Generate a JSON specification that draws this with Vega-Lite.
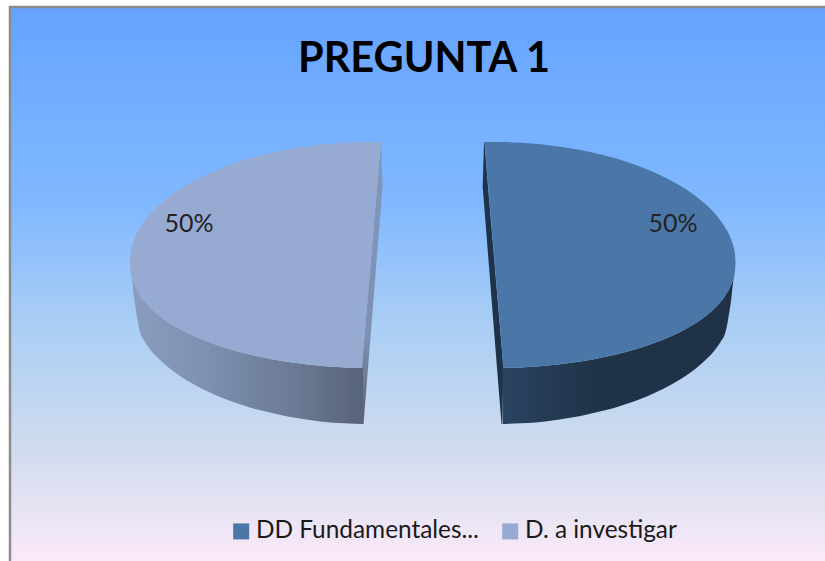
{
"$schema":"https://vega.github.io/schema/vega-lite/v6.json",
"width":825,"height":561,"autosize":{"type":"none"},"padding":0,"background":"white",
"title":{"text":"PREGUNTA 1","font":"Lato","fontWeight":"bold","fontSize":41.5,"color":"#000000","anchor":"middle","dx":11.5,"dy":84},
"config":{"view":{"stroke":null}},
"datasets":{
"frame":[{"x":10,"x2":835,"y":7,"y2":570}],
"topL":[{"x":130,"y":262,"y2":262},{"x":130.5,"y":254.3,"y2":270.5},{"x":131,"y":251.1,"y2":273.7},{"x":132,"y":246.6,"y2":278},{"x":134,"y":240.3,"y2":284},{"x":137,"y":233.3,"y2":290.4},{"x":140,"y":227.9,"y2":295.3},{"x":145,"y":220.4,"y2":302},{"x":152,"y":212,"y2":309.4},{"x":160,"y":204.1,"y2":316.2},{"x":170,"y":195.9,"y2":323.2},{"x":180,"y":189,"y2":329.2},{"x":195,"y":180.2,"y2":336.5},{"x":210,"y":172.9,"y2":342.6},{"x":225,"y":166.7,"y2":347.8},{"x":240,"y":161.4,"y2":352.1},{"x":255,"y":157,"y2":355.8},{"x":270,"y":153.2,"y2":358.9},{"x":285,"y":150,"y2":361.5},{"x":300,"y":147.4,"y2":363.6},{"x":315,"y":145.4,"y2":365.3},{"x":330,"y":143.8,"y2":366.5},{"x":345,"y":142.7,"y2":367.4},{"x":362,"y":142.1,"y2":367.9},{"x":364,"y":142.1,"y2":344},{"x":366,"y":142.1,"y2":320},{"x":370,"y":142,"y2":273},{"x":375,"y":142,"y2":213},{"x":379,"y":142,"y2":166},{"x":381,"y":142,"y2":142}],
"topR":[{"x":484.5,"y":142,"y2":142},{"x":486.5,"y":142,"y2":166},{"x":491,"y":142,"y2":219},{"x":495,"y":142,"y2":267},{"x":499.5,"y":142.1,"y2":320},{"x":501.5,"y":142.1,"y2":344},{"x":503.5,"y":142.1,"y2":367.9},{"x":520.5,"y":142.7,"y2":367.4},{"x":535.5,"y":143.8,"y2":366.5},{"x":550.5,"y":145.4,"y2":365.3},{"x":565.5,"y":147.4,"y2":363.6},{"x":580.5,"y":150,"y2":361.5},{"x":595.5,"y":153.2,"y2":358.9},{"x":610.5,"y":157,"y2":355.8},{"x":625.5,"y":161.4,"y2":352.1},{"x":640.5,"y":166.7,"y2":347.8},{"x":655.5,"y":172.9,"y2":342.6},{"x":670.5,"y":180.2,"y2":336.5},{"x":685.5,"y":189,"y2":329.2},{"x":695.5,"y":195.9,"y2":323.2},{"x":705.5,"y":204.1,"y2":316.2},{"x":713.5,"y":212,"y2":309.4},{"x":720.5,"y":220.4,"y2":302},{"x":725.5,"y":227.9,"y2":295.3},{"x":728.5,"y":233.3,"y2":290.4},{"x":731.5,"y":240.3,"y2":284},{"x":733.5,"y":246.6,"y2":278},{"x":734.5,"y":251.1,"y2":273.7},{"x":735,"y":254.3,"y2":270.5},{"x":735.5,"y":262,"y2":262}],
"wallL":[{"x":130,"y":262,"y2":262.5},{"x":131,"y":273.7,"y2":274.5},{"x":132,"y":278,"y2":279.5},{"x":134,"y":284,"y2":297},{"x":136,"y":287.5,"y2":311},{"x":137,"y":290.4,"y2":317},{"x":138,"y":291.5,"y2":323},{"x":140,"y":295.3,"y2":332},{"x":145,"y":302,"y2":342},{"x":152,"y":309.4,"y2":351.7},{"x":160,"y":316.2,"y2":360},{"x":170,"y":323.2,"y2":368.8},{"x":180,"y":329.2,"y2":376},{"x":195,"y":336.5,"y2":385},{"x":210,"y":342.6,"y2":392.5},{"x":225,"y":347.8,"y2":399},{"x":240,"y":352.1,"y2":404.2},{"x":255,"y":355.8,"y2":409},{"x":270,"y":358.9,"y2":412.5},{"x":285,"y":361.5,"y2":415.9},{"x":300,"y":363.6,"y2":418.5},{"x":315,"y":365.3,"y2":420.8},{"x":330,"y":366.5,"y2":422.4},{"x":345,"y":367.4,"y2":423.3},{"x":363,"y":367.9,"y2":424}],
"wallR":[{"x":502.5,"y":367.9,"y2":424},{"x":520.5,"y":367.4,"y2":423.3},{"x":535.5,"y":366.5,"y2":422.4},{"x":550.5,"y":365.3,"y2":420.8},{"x":565.5,"y":363.6,"y2":418.5},{"x":580.5,"y":361.5,"y2":415.9},{"x":595.5,"y":358.9,"y2":412.5},{"x":610.5,"y":355.8,"y2":409},{"x":625.5,"y":352.1,"y2":404.2},{"x":640.5,"y":347.8,"y2":399},{"x":655.5,"y":342.6,"y2":392.5},{"x":670.5,"y":336.5,"y2":385},{"x":685.5,"y":329.2,"y2":376},{"x":695.5,"y":323.2,"y2":368.8},{"x":705.5,"y":316.2,"y2":360},{"x":713.5,"y":309.4,"y2":351.7},{"x":720.5,"y":302,"y2":342},{"x":725.5,"y":295.3,"y2":332},{"x":727.5,"y":291.5,"y2":323},{"x":728.5,"y":290.4,"y2":317},{"x":729.5,"y":287.5,"y2":311},{"x":731.5,"y":284,"y2":297},{"x":733.5,"y":278,"y2":279.5},{"x":734.5,"y":273.7,"y2":274.5},{"x":735.5,"y":262,"y2":262.5}],
"edgeL":[{"y":142,"x":381,"x2":381},{"y":187,"x":377,"x2":382.5},{"y":368,"x":361.5,"x2":368},{"y":424,"x":363,"x2":363.5}],
"edgeR":[{"y":142,"x":484,"x2":484.5},{"y":187,"x":482.7,"x2":488},{"y":368,"x":497,"x2":503.5},{"y":424,"x":501.5,"x2":502}],
"labels":[{"x":189,"y":224,"t":"50%"},{"x":673,"y":224,"t":"50%"}]
},
"layer":[
{"data":{"name":"frame"},"mark":{"type":"rect","clip":true,"stroke":"#8c8c8c","strokeWidth":2.5,"fill":{"gradient":"linear","x1":0,"y1":0,"x2":0,"y2":1,"stops":[{"offset":0,"color":"#66a3ff"},{"offset":0.35,"color":"#80b8ff"},{"offset":0.55,"color":"#a8cdf5"},{"offset":0.78,"color":"#cfdbee"},{"offset":0.9,"color":"#e8e4f4"},{"offset":1,"color":"#ffeafa"}]}},
"encoding":{"x":{"field":"x","type":"quantitative","scale":{"domain":[0,825],"nice":false,"zero":false},"axis":null},"x2":{"field":"x2"},"y":{"field":"y","type":"quantitative","scale":{"domain":[561,0],"nice":false,"zero":false},"axis":null},"y2":{"field":"y2"}}},
{"data":{"name":"edgeL"},"mark":{"type":"area","orient":"horizontal","fill":{"gradient":"linear","x1":0,"y1":0,"x2":0,"y2":1,"stops":[{"offset":0,"color":"#8297ba"},{"offset":0.7,"color":"#7c90b2"},{"offset":1,"color":"#566277"}]}},
"encoding":{"y":{"field":"y","type":"quantitative"},"x":{"field":"x","type":"quantitative"},"x2":{"field":"x2"}}},
{"data":{"name":"edgeR"},"mark":{"type":"area","orient":"horizontal","fill":"#1e3249"},
"encoding":{"y":{"field":"y","type":"quantitative"},"x":{"field":"x","type":"quantitative"},"x2":{"field":"x2"}}},
{"data":{"name":"wallL"},"mark":{"type":"area","interpolate":"monotone","fill":{"gradient":"linear","x1":0,"y1":0,"x2":1,"y2":0,"stops":[{"offset":0,"color":"#8a9dbf"},{"offset":0.3,"color":"#7f92b2"},{"offset":0.7,"color":"#6b7a95"},{"offset":1,"color":"#586379"}]}},
"encoding":{"x":{"field":"x","type":"quantitative"},"y":{"field":"y","type":"quantitative"},"y2":{"field":"y2"}}},
{"data":{"name":"wallR"},"mark":{"type":"area","interpolate":"monotone","fill":{"gradient":"linear","x1":0,"y1":0,"x2":1,"y2":0,"stops":[{"offset":0,"color":"#2b4461"},{"offset":0.38,"color":"#203349"},{"offset":1,"color":"#1f3147"}]}},
"encoding":{"x":{"field":"x","type":"quantitative"},"y":{"field":"y","type":"quantitative"},"y2":{"field":"y2"}}},
{"data":{"name":"topL"},"transform":[{"calculate":"'D. a investigar'","as":"serie"}],"mark":{"type":"area","interpolate":"monotone"},
"encoding":{"x":{"field":"x","type":"quantitative"},"y":{"field":"y","type":"quantitative"},"y2":{"field":"y2"},"color":{"field":"serie","type":"nominal","scale":{"domain":["DD Fundamentales...","D. a investigar"],"range":["#4a77a8","#96aad2"]},"legend":{"title":null,"orient":"none","legendX":229,"legendY":519,"direction":"horizontal","columns":2,"symbolType":"square","symbolSize":256,"symbolStrokeWidth":0,"labelFont":"Lato","labelFontSize":24.4,"labelColor":"#1a1a1a","labelLimit":400,"labelOffset":2.5,"columnPadding":19}}}},
{"data":{"name":"topR"},"transform":[{"calculate":"'DD Fundamentales...'","as":"serie"}],"mark":{"type":"area","interpolate":"monotone"},
"encoding":{"x":{"field":"x","type":"quantitative"},"y":{"field":"y","type":"quantitative"},"y2":{"field":"y2"},"color":{"field":"serie","type":"nominal"}}},
{"data":{"name":"labels"},"mark":{"type":"text","font":"Lato","fontSize":25,"color":"#222222","align":"center","baseline":"middle"},
"encoding":{"x":{"field":"x","type":"quantitative"},"y":{"field":"y","type":"quantitative"},"text":{"field":"t"}}}
]
}
